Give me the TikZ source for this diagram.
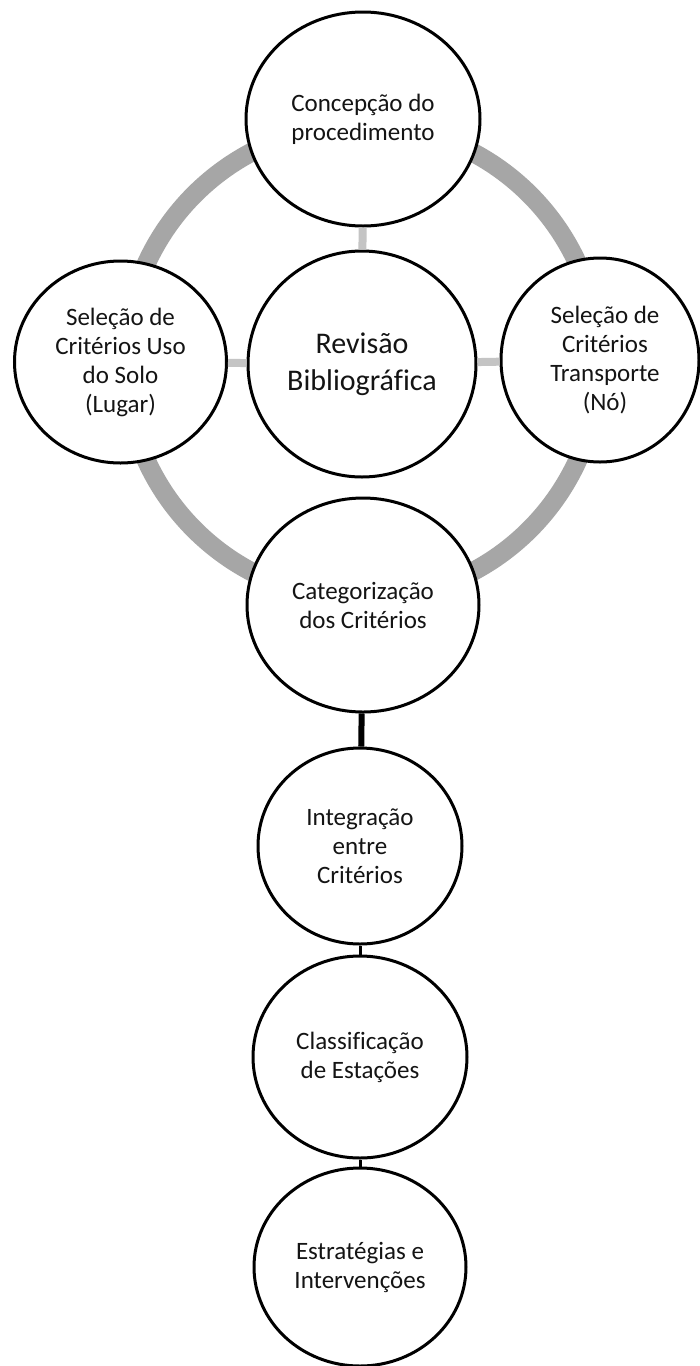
\documentclass[tikz,border=0pt]{standalone}
\usepackage{fontspec}
\setmainfont{Carlito}[Ligatures=NoCommon]
\usetikzlibrary{shapes.geometric}
\definecolor{ringgray}{HTML}{A6A6A6}
\definecolor{bargray}{HTML}{C4C4C4}
\definecolor{txt}{HTML}{141414}
\begin{document}
\begin{tikzpicture}[x=1pt,y=-1pt,
  bub/.style={ellipse, draw=black, line width=3pt, fill=white, inner sep=0pt,
    align=center, text=txt, font=\fontsize{25}{29}\selectfont},
  bigtext/.style={font=\fontsize{30}{37}\selectfont},
  graybar/.style={draw=bargray, line width=8pt},
  thickbar/.style={draw=black, line width=6pt},
  thinbar/.style={draw=black, line width=3pt}]
\useasboundingbox (0,0) rectangle (700,1366);
\fill[white] (0,0) rectangle (700,1366);
% ring
\draw[ringgray, line width=19pt] (362,362) circle[radius=237];
% nodes
\node[bub, minimum width=234pt, minimum height=214pt] (conc) at (363,119) {Concepção do\\procedimento};
\node[bub, bigtext, minimum width=228pt, minimum height=226pt] (rev) at (362,364) {Revisão\\Bibliográfica};
\node[bub, minimum width=212pt, minimum height=202pt] (uso) at (120.5,362) {Seleção de\\Critérios Uso\\do Solo\\(Lugar)};
\node[bub, minimum width=198pt, minimum height=204pt] (transp) at (600,360) {\hspace*{10pt}Seleção de\\\hspace*{10pt}Critérios\\\hspace*{10pt}Transporte\\\hspace*{10pt}(Nó)};
\node[bub, minimum width=232pt, minimum height=214pt] (cat) at (363,605) {Categorização\\dos Critérios};
\node[bub, minimum width=204pt, minimum height=196pt] (integ) at (360,846) {Integração\\entre\\Critérios};
\node[bub, minimum width=214pt, minimum height=202pt] (classif) at (360,1057) {Classificação\\de Estações};
\node[bub, minimum width=212pt, minimum height=198pt] (estr) at (360,1267) {Estratégias e\\Intervenções};
% connectors
\draw[graybar] (conc) -- (rev);
\draw[graybar] (uso) -- (rev);
\draw[graybar] (rev) -- (transp);
\draw[thickbar] (cat) -- (integ);
\draw[thinbar] (integ) -- (classif);
\draw[thinbar] (classif) -- (estr);
\end{tikzpicture}
\end{document}
